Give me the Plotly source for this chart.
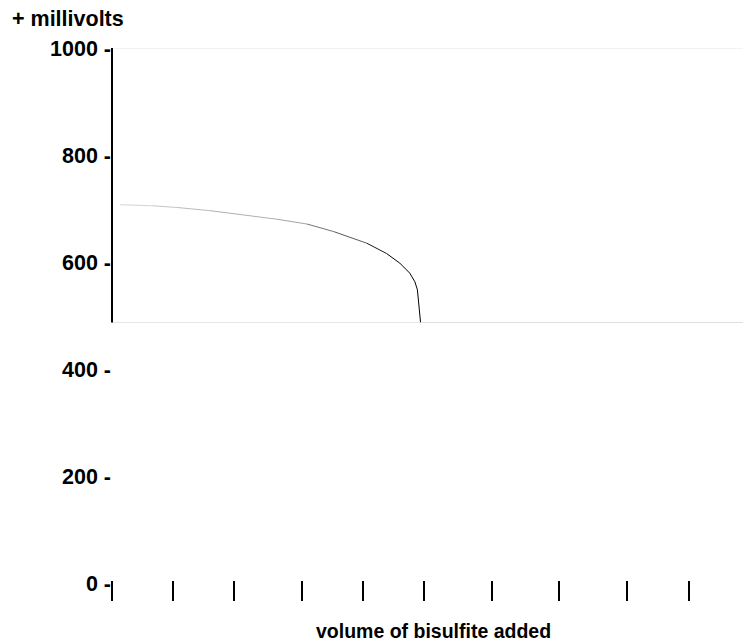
import plotly.graph_objects as go

# Data (volume in arbitrary units, potential in mV)
volume_added = [0.13, 0.65, 1.02, 1.55, 2.08, 2.61, 3.09, 3.51, 4.04, 4.35,
                4.56, 4.72, 4.80, 4.84, 4.89, 10.0]
millivolts = [707, 705, 702, 696, 688, 680, 671, 657, 635, 616,
              598, 579, 563, 548, 487, 487]

y_tick_values = [0, 200, 400, 600, 800, 1000]
y_tick_labels = ["0 -", "200 -", "400 -", "600 -", "800 -", "1000 -"]
x_tick_values = [0, 0.97, 1.93, 3.01, 3.98, 4.94, 6.02, 7.08, 8.16, 9.14]

baseline_mv = 487
top_mv = 1000

FONT = "Liberation Sans, Arial, sans-serif"
X_RANGE = [0, 10]
Y_RANGE = [0, 1000]
PLOT_W, PLOT_H = 631, 535

fig = go.Figure()

# Draw the curve segment by segment; shallow segments appear lighter
# (as the thin anti-aliased line does in the reference), steep ones black.
px_per_x = PLOT_W / (X_RANGE[1] - X_RANGE[0])
px_per_y = PLOT_H / (Y_RANGE[1] - Y_RANGE[0])
for i in range(len(volume_added) - 1):
    dx = abs(volume_added[i + 1] - volume_added[i]) * px_per_x
    dy = abs(millivolts[i + 1] - millivolts[i]) * px_per_y
    slope = dy / dx if dx else 99
    darkness = min(1.0, 0.12 + slope * 1.5)
    g = int(round(255 * (1 - darkness)))
    fig.add_trace(go.Scatter(
        x=volume_added[i:i + 2], y=millivolts[i:i + 2], mode="lines",
        line=dict(color=f"rgb({g},{g},{g})", width=1),
        hoverinfo="skip", showlegend=False,
    ))

fig.update_layout(
    width=743, height=643,
    margin=dict(l=112, r=0, t=48, b=60),
    paper_bgcolor="white", plot_bgcolor="white",
    font=dict(family=FONT, size=21, color="black"),
    xaxis=dict(
        range=X_RANGE, anchor="free", position=3 / 535,
        showline=False, showgrid=False, zeroline=False,
        tickvals=x_tick_values, showticklabels=False,
        ticks="outside", ticklen=20, tickwidth=2, tickcolor="black",
    ),
    yaxis=dict(
        range=Y_RANGE,
        showline=False, showgrid=False, zeroline=False,
        tickvals=y_tick_values, ticktext=y_tick_labels,
        ticks="", tickfont=dict(family=FONT, size=21.5, color="black", weight="bold"),
        ticklabelstandoff=0,
    ),
    shapes=[
        dict(type="line", xref="paper", yref="y", x0=0, x1=1,
             y0=top_mv, y1=top_mv, line=dict(color="#e6e6e6", width=1), layer="below"),
        dict(type="line", xref="paper", yref="y", x0=0, x1=1,
             y0=baseline_mv, y1=baseline_mv, line=dict(color="#e6e6e6", width=1), layer="below"),
        dict(type="line", xref="paper", yref="y", x0=0, x1=0,
             y0=baseline_mv, y1=top_mv, line=dict(color="black", width=2)),
    ],
    annotations=[
        dict(text="<b>+ millivolts</b>", xref="paper", yref="paper",
             x=(10 - 112) / 631, y=(583 - 19) / 535, xanchor="left", yanchor="middle",
             showarrow=False, font=dict(family=FONT, size=21.5, color="black")),
        dict(text="<b>volume of bisulfite added</b>", xref="paper", yref="paper",
             x=(433 - 112) / 631, y=(583 - 631) / 535, xanchor="center", yanchor="middle",
             showarrow=False, font=dict(family=FONT, size=19.5, color="black")),
    ],
)

fig.write_html(
    "out.html",
    config={"displayModeBar": False},
    post_script="document.body.style.margin='0';document.body.style.overflow='hidden';",
)
